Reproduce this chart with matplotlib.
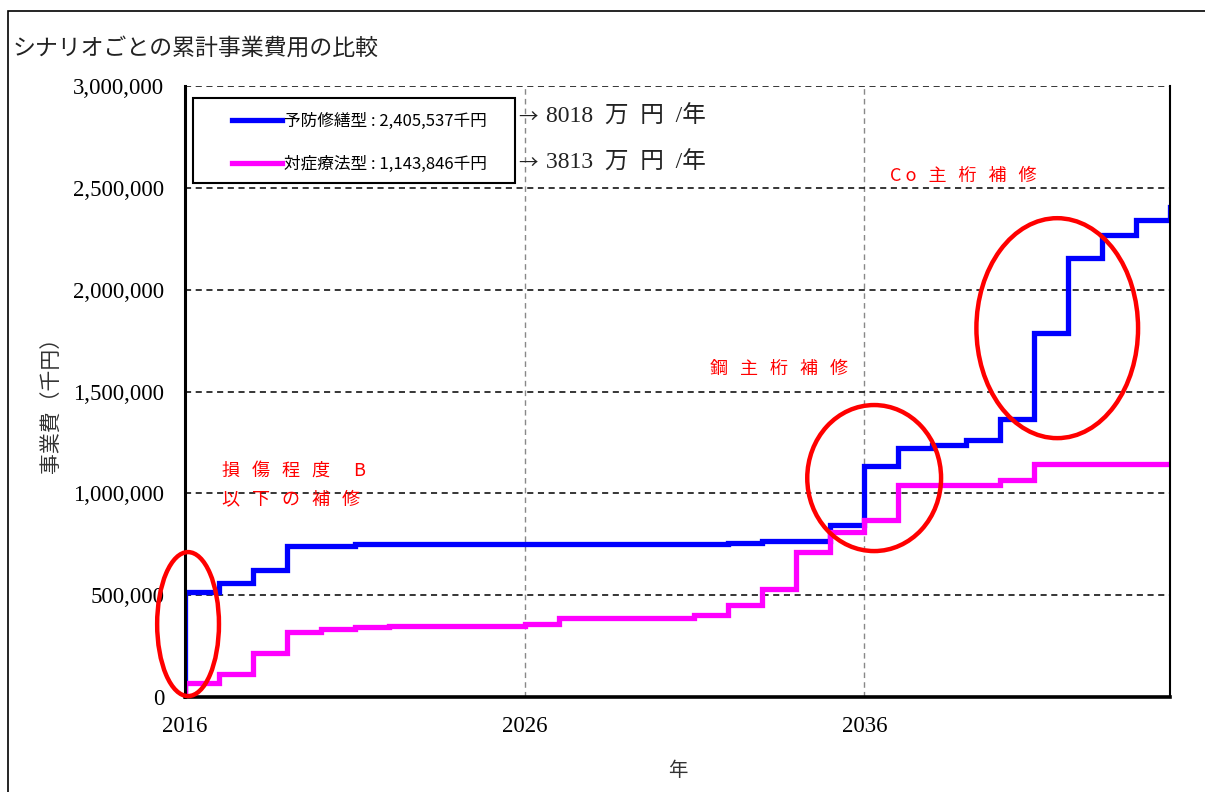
import matplotlib
matplotlib.use("Agg")
import matplotlib.pyplot as plt
from matplotlib.patches import Ellipse, Rectangle
from matplotlib.ticker import FuncFormatter

# ---- data ----
years = list(range(2016, 2047))  # value at year k is held over [k-1, k]
preventive = [0, 515000, 558000, 622000, 741000, 741000,
              750000, 750000, 750000, 750000, 750000, 750000,
              750000, 750000, 750000, 750000, 750000,
              756000, 764000, 764000, 846000, 1134000, 1222000,
              1237000, 1262000, 1365000, 1787000, 2155000,
              2268000, 2342000, 2405537]
reactive = [0, 69000, 113000, 216000, 319000, 334000, 344000,
            348000, 348000, 348000, 348000, 358000,
            388000, 388000, 388000, 388000,
            402000, 452000, 530000, 712000, 810000, 869000,
            1043000, 1043000, 1043000, 1065000,
            1143846, 1143846, 1143846, 1143846, 1143846]
series_labels = ["予防修繕型 : 2,405,537千円", "対症療法型 : 1,143,846千円"]
rate_labels = ["8018  万  円  /年", "3813  万  円  /年"]
arrow = "→"
x_ticks = [2016, 2026, 2036]
y_ticks = [0, 500000, 1000000, 1500000, 2000000, 2500000, 3000000]
title = "シナリオごとの累計事業費用の比較"
xlabel = "年"
ylabel = "事業費（千円）"
# annotation texts and ellipse regions (data coordinates)
notes = [("損   傷   程   度      B", 2017.09, 1110000),
         ("以   下   の   補   修", 2017.09, 972000),
         ("鋼   主   桁   補   修", 2031.45, 1610000),
         ("C o   主   桁   補   修", 2036.75, 2558000)]
circles = [(2016.09, 358000, 1.82, 707000),
           (2036.29, 1075000, 3.94, 717000),
           (2041.68, 1811000, 4.76, 1080000)]

CJK = ["Noto Sans CJK JP", "DejaVu Sans"]
SERIF = ["Liberation Serif", "Noto Sans CJK JP"]

W, H = 1205, 792
fig = plt.figure(figsize=(W / 100, H / 100), dpi=100)
ax = fig.add_axes([185 / W, 1 - 697 / H, 985 / W, 611 / H])

ax.plot(years, preventive, drawstyle="steps-pre", color="#0000FF", lw=3.8,
        label=series_labels[0], solid_joinstyle="miter")
ax.plot(years, reactive, drawstyle="steps-pre", color="#FF00FF", lw=3.8,
        label=series_labels[1], solid_joinstyle="miter")

ax.set_xlim(2016, 2045)
ax.set_ylim(0, 3000000)
ax.set_xticks(x_ticks)
ax.set_yticks(y_ticks)
ax.yaxis.set_major_formatter(FuncFormatter(lambda v, p: f"{v:,.0f}"))
ax.tick_params(axis="both", length=0, labelsize=16.5)
ax.tick_params(axis="y", pad=15)
ax.tick_params(axis="x", pad=14)
for lab in ax.get_xticklabels() + ax.get_yticklabels():
    lab.set_fontfamily(SERIF)

ax.yaxis.grid(True, color="black", linestyle=(0, (4, 3)), lw=1.1)
ax.xaxis.grid(True, color="#888888", linestyle=(0, (4, 3)), lw=1.0)
ax.set_axisbelow(True)

ax.spines["top"].set_visible(False)
ax.spines["right"].set_linewidth(1.5)
ax.spines["left"].set_linewidth(2.2)
ax.spines["bottom"].set_linewidth(2.6)

ax.set_xlabel(xlabel, family=CJK, fontsize=14, color="#333333")
ax.xaxis.set_label_coords(0.5005, -0.103)
ax.set_ylabel(ylabel, family=CJK, fontsize=15, color="#333333")
ax.yaxis.set_label_coords(-0.124, 0.486)

fig.text(13 / W, 1 - 48 / H, title, family=CJK, fontsize=16.5,
         ha="left", va="center", color="#222222")

# legend with separate frame
leg = ax.legend(loc="upper left", bbox_to_anchor=((232 - 185) / 985, (697 - 113) / 611),
                frameon=False, prop={"family": CJK, "size": 12},
                handlelength=3.0, handletextpad=0.1, borderpad=0,
                borderaxespad=0, labelspacing=1.55)
for ln in leg.get_lines():
    ln.set_linewidth(3.8)
ax.add_patch(Rectangle(((193 - 185) / 985, (697 - 183) / 611),
                       (515 - 193) / 985, (183 - 98) / 611,
                       transform=ax.transAxes, fill=False,
                       edgecolor="black", lw=1.5, zorder=5))

for txt, yy in zip(rate_labels, [117, 163]):
    ax.text((518 - 185) / 985, (697 - yy) / 611, arrow, transform=ax.transAxes,
            family=CJK, fontsize=14, ha="left", va="center", color="#222222")
    ax.text((546 - 185) / 985, (697 - yy) / 611, txt, transform=ax.transAxes,
            family=SERIF, fontsize=17, ha="left", va="center", color="#222222")

for txt, xx, yy in notes:
    ax.text(xx, yy, txt, family=CJK, fontsize=13, color="#FF0000",
            ha="left", va="center")

for cx, cy, w, h in circles:
    ax.add_patch(Ellipse((cx, cy), w, h, fill=False, edgecolor="#FF0000",
                         lw=3.2, clip_on=False, zorder=6))

fig.patches.append(Rectangle((8 / W, -0.01), 1.0, 1 - 11 / H + 0.01,
                             transform=fig.transFigure, fill=False,
                             edgecolor="black", lw=1.2))

fig.savefig("out.png", dpi=100)
